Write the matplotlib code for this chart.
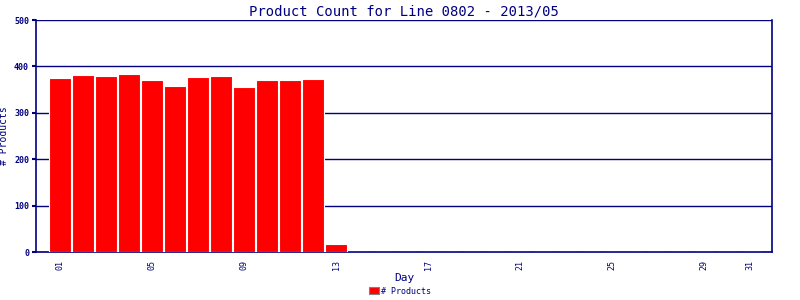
import matplotlib
matplotlib.use("Agg")
import matplotlib.pyplot as plt

# data
days = list(range(1, 32))
counts = [375, 382, 379, 384, 371, 358, 377, 380, 356, 371, 371, 373, 17] + [0] * 18
tick_days = [1, 5, 9, 13, 17, 21, 25, 29, 31]
tick_labels = ["01", "05", "09", "13", "17", "21", "25", "29", "31"]

navy = "#000080"
plt.rcParams["font.family"] = ["DejaVu Sans Mono"]

fig = plt.figure(figsize=(8, 3), dpi=100)
ax = fig.add_axes([0.045, 0.16, 0.92, 0.773])

ax.bar(days, counts, width=0.96, color="#ff0000", edgecolor="white", linewidth=0.8,
       label="# Products", zorder=3)

ax.set_xlim(-0.05, 31.95)
ax.set_ylim(0, 500)
ax.set_yticks([0, 100, 200, 300, 400, 500])
ax.set_xticks(tick_days)
ax.set_xticklabels(tick_labels, rotation=90, fontsize=6, color=navy)
ax.tick_params(axis="y", labelsize=6, colors=navy, length=3, width=1.5, pad=2)
ax.tick_params(axis="x", length=0, pad=6, colors=navy)
for lbl in ax.get_yticklabels():
    lbl.set_fontweight("bold")

ax.grid(axis="y", color=navy, linewidth=1.0, zorder=2)
for side in ["left", "bottom", "right"]:
    ax.spines[side].set_color(navy)
    ax.spines[side].set_linewidth(1.2)
ax.spines["top"].set_visible(False)

ax.set_title("Product Count for Line 0802 - 2013/05", color=navy, fontsize=10, pad=3)
ax.set_xlabel("Day", color=navy, fontsize=8, labelpad=2)
ax.set_ylabel("# Products", color=navy, fontsize=7)
ax.yaxis.set_label_coords(-0.037, 0.5)

leg = fig.legend(loc="lower center", bbox_to_anchor=(0.5, -0.01), frameon=False,
                 fontsize=6, handlelength=1.2, handleheight=0.9, handletextpad=0.3)
for t in leg.get_texts():
    t.set_color(navy)
for h in leg.legend_handles:
    h.set_edgecolor("gray")

fig.savefig("out.png", dpi=100)
